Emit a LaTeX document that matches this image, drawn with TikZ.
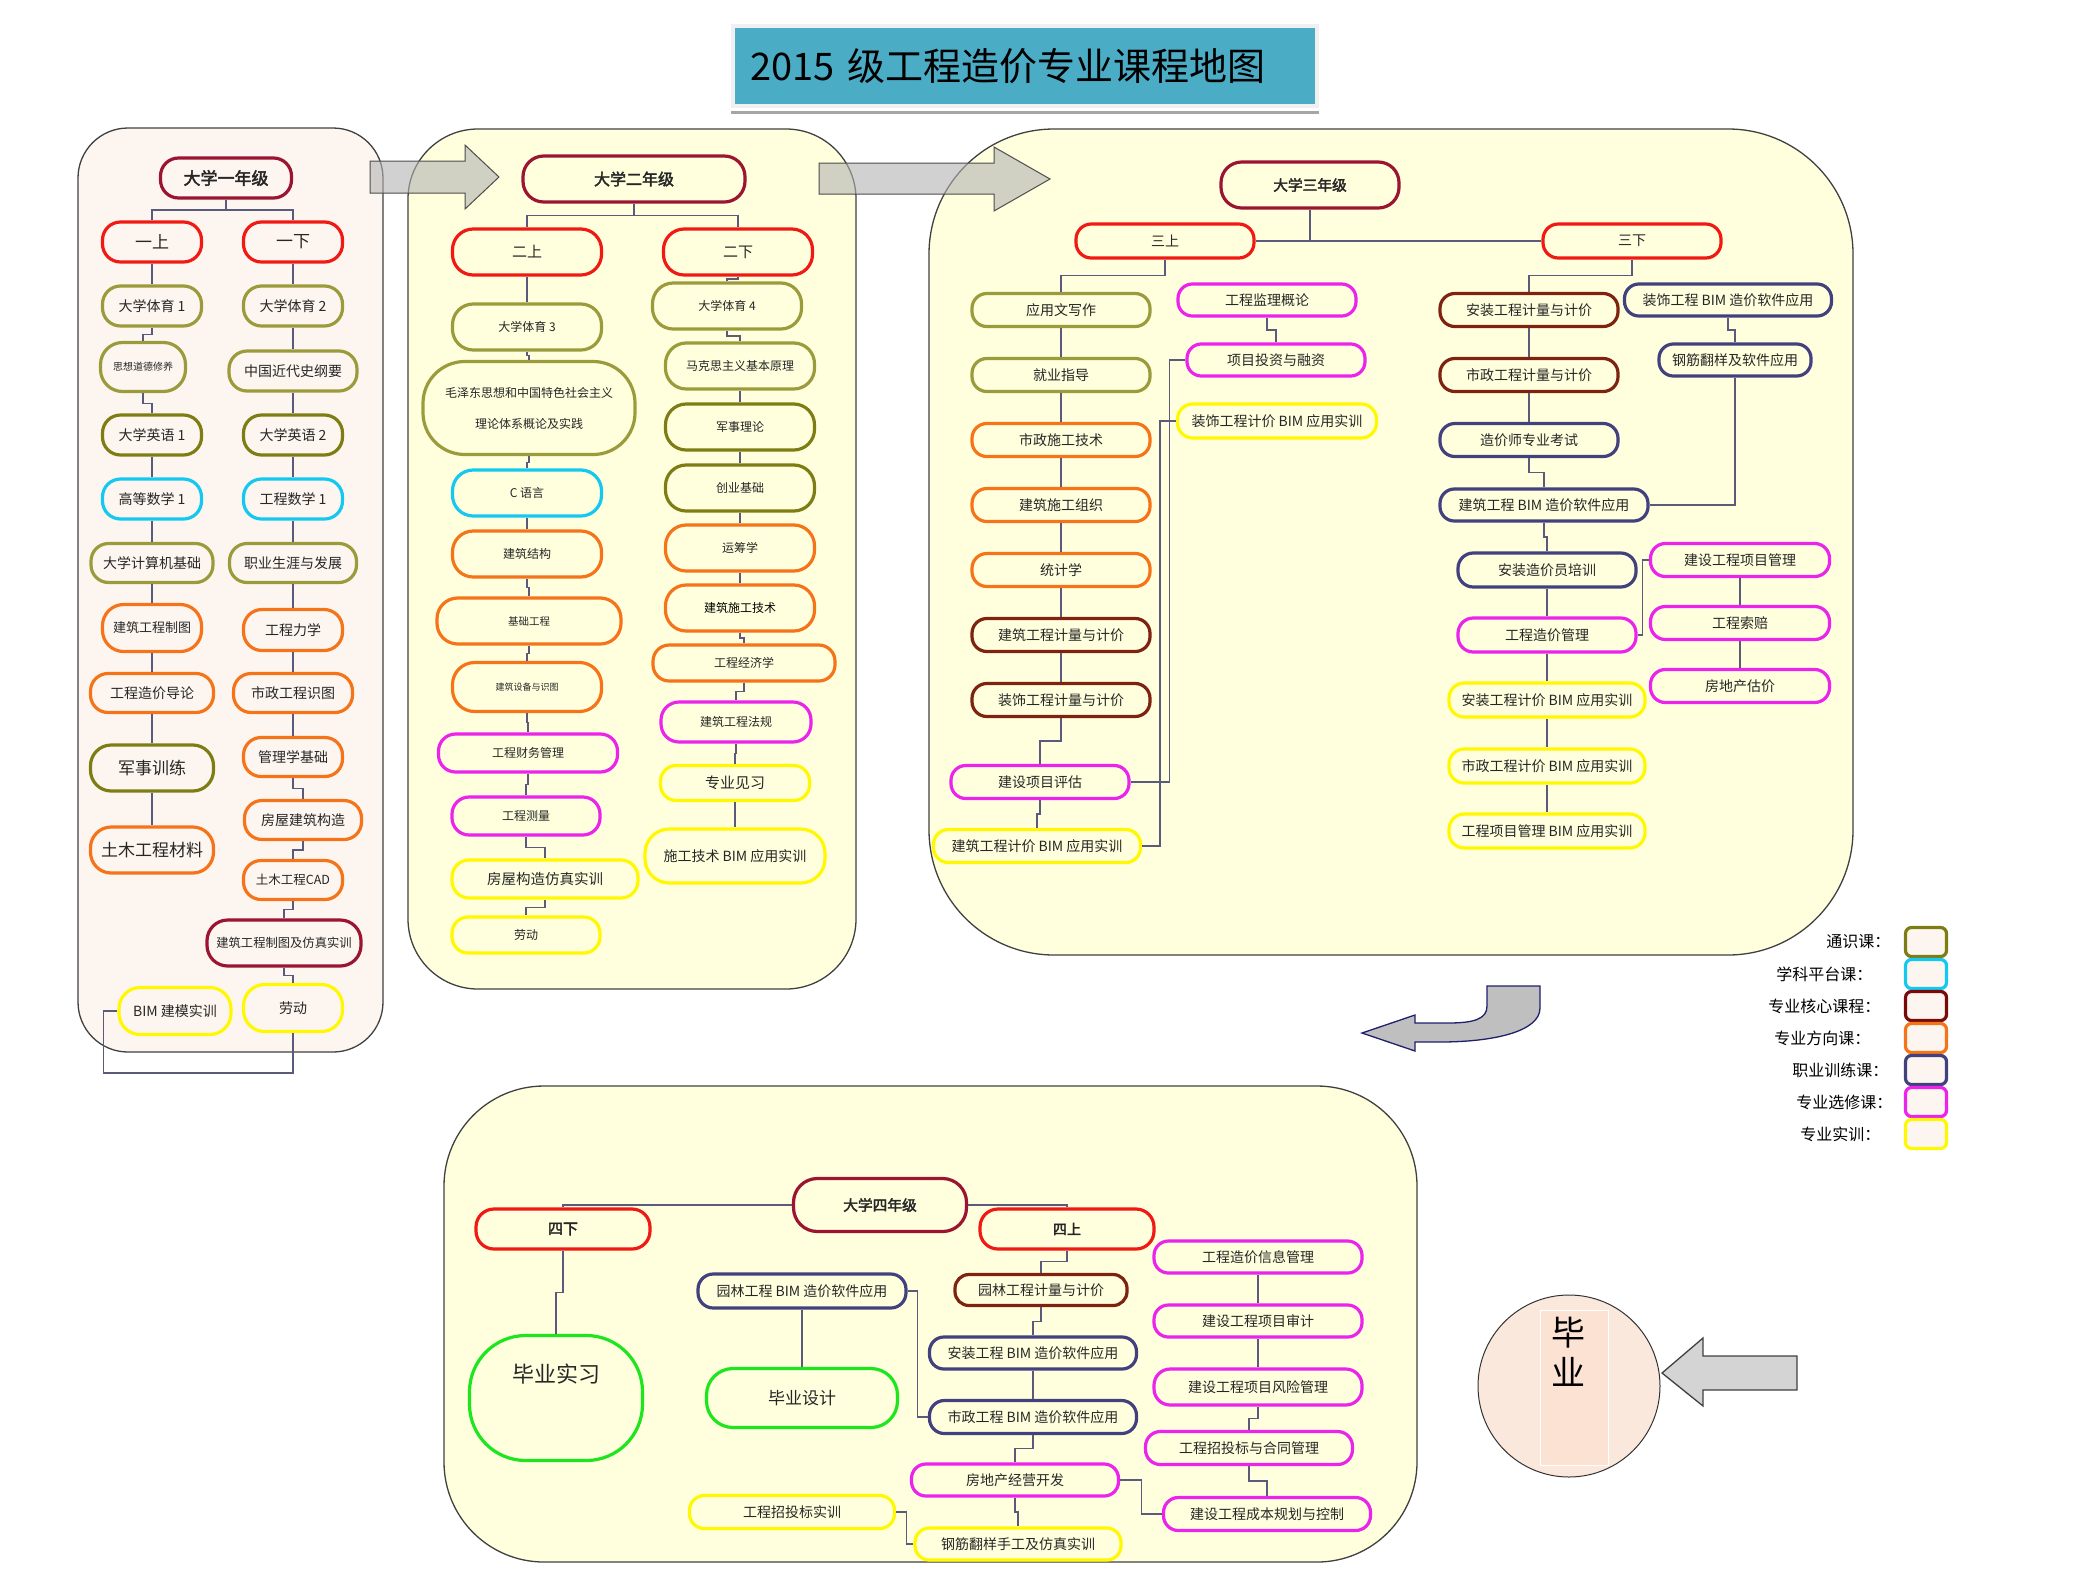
\documentclass[tikz,border=0pt]{standalone}
\usepackage{fontspec}
\setmainfont{Noto Sans CJK SC}[AutoFakeBold=2.5]
\usetikzlibrary{calc}
\newcommand\fsz[1]{\fontsize{#1}{#1}\selectfont}

\definecolor{ctong}{RGB}{155,155,60}
\definecolor{ctongd}{RGB}{125,125,20}
\definecolor{cplat}{RGB}{20,200,240}
\definecolor{chead}{RGB}{155,20,50}
\definecolor{ccore}{RGB}{125,35,15}
\definecolor{cterm}{RGB}{240,25,20}
\definecolor{cdir}{RGB}{245,115,25}
\definecolor{cjob}{RGB}{65,65,125}
\definecolor{celec}{RGB}{235,35,235}
\definecolor{cprac}{RGB}{255,248,0}
\definecolor{cgrad}{RGB}{30,230,30}
\definecolor{clink}{RGB}{90,90,125}
\definecolor{cpanA}{RGB}{253,246,240}
\definecolor{cpanB}{RGB}{255,255,222}
\definecolor{ctitle}{RGB}{75,172,198}
\definecolor{cpeach}{RGB}{251,232,221}
\definecolor{cpeachb}{RGB}{252,226,210}
\definecolor{cnavy}{RGB}{31,31,110}

\tikzset{
  course/.style={draw, rectangle, line width=3.2pt, inner sep=0pt, text=black!85},
  wh/.style 2 args={minimum width=#1, minimum height=#2, rounded corners=0.45*#2},
  crim/.style={course, draw=chead},
  termbox/.style={course, draw=cterm},
  gen/.style={course, draw=ctong},
  gend/.style={course, draw=ctongd},
  plat/.style={course, draw=cplat},
  core/.style={course, draw=ccore},
  dir/.style={course, draw=cdir},
  job/.style={course, draw=cjob},
  elec/.style={course, draw=celec},
  prac/.style={course, draw=cprac},
  grad/.style={course, draw=cgrad},
  link/.style={draw=clink, line width=1.2pt},
  elbow/.style={to path={(\tikztostart) |- ($(\tikztostart)!0.5!(\tikztotarget)$) -| (\tikztotarget)}},
  panel/.style={draw=black!75, line width=1.3pt},
  legbox/.style={draw, line width=3.2pt, fill=cpanA, rounded corners=6, minimum width=41, minimum height=29},
}

\begin{document}
\begin{tikzpicture}[x=1pt, y=-1pt, font=\fsz{14}]
\useasboundingbox (0,0) rectangle (2079,1585);

% panels
\draw[panel, fill=cpanA, rounded corners=50] (78,128) rectangle (383,1052);
\draw[panel, fill=cpanB, rounded corners=70] (408,129) rectangle (856,989);
\draw[panel, fill=cpanB, rounded corners=125] (929,129) rectangle (1853,955);
\draw[panel, fill=cpanB, rounded corners=100] (444,1086) rectangle (1417,1562);

% arrows between years
\draw[black!70, line width=1pt, fill=black!30, fill opacity=0.6] (370,161) -- (465,161) -- (465,145) -- (499,177) -- (465,209) -- (465,193) -- (370,193) -- cycle;
\draw[black!70, line width=1pt, fill=black!30, fill opacity=0.6] (819,163) -- (994,163) -- (994,147) -- (1050,179) -- (994,211) -- (994,194) -- (819,194) -- cycle;
\draw[cnavy, fill=black!25, line width=1.3pt] (1540,986) -- (1540,1008) .. controls (1540,1032) and (1492,1042) .. (1440,1042) -- (1415,1042) -- (1415,1051) -- (1362,1033) -- (1415,1015) -- (1415,1023) -- (1448,1023) .. controls (1474,1023) and (1487,1019) .. (1487,1006) -- (1487,986) -- cycle;
\draw[black!75, fill=black!17, line width=1.3pt] (1797,1356) -- (1703,1356) -- (1703,1338) -- (1662,1373) -- (1703,1406) -- (1703,1390) -- (1797,1390) -- cycle;

% title
\node[fill=ctitle, draw=black!6, line width=4pt, minimum height=80, text width=550, inner xsep=17, align=left, font=\fsz{38}, text=black] (T) at (1025,66) {2015 级工程造价专业课程地图};
\draw[black!35, line width=3pt] ([yshift=-4pt]T.south west) -- ([yshift=-4pt]T.south east);

% year one
\node[crim, wh={131}{40}, font=\bfseries\fsz{17}] (Y1) at (226,178) {大学一年级};
\node[termbox, wh={99}{40}, font=\fsz{17}] (S1) at (152,242) {一上};
\node[termbox, wh={99}{40}, font=\fsz{17}] (S2) at (293,242) {一下};
\node[gen, wh={99}{40}] (A1) at (152,306) {大学体育 1};
\node[gen, wh={85}{49}, font=\fsz{10}] (A2) at (143,367) {思想道德修养};
\node[gend, wh={99}{40}] (A3) at (152,435) {大学英语 1};
\node[plat, wh={99}{40}] (A4) at (152,499) {高等数学 1};
\node[gen, wh={122}{39}] (A5) at (152,563) {大学计算机基础};
\node[dir, wh={99}{47}, font=\fsz{13}] (A6) at (152,628) {建筑工程制图};
\node[dir, wh={123}{39}] (A7) at (152,693) {工程造价导论};
\node[gend, wh={123}{46}, font=\fsz{17}] (A8) at (152,768) {军事训练};
\node[dir, wh={123}{46}, font=\fsz{17}] (A9) at (152,850) {土木工程材料};
\node[prac, wh={112}{47}] (A10) at (175,1011) {BIM 建模实训};
\node[gen, wh={99}{40}] (B1) at (293,306) {大学体育 2};
\node[gen, wh={128}{40}] (B2) at (293,371) {中国近代史纲要};
\node[gend, wh={99}{40}] (B3) at (293,435) {大学英语 2};
\node[plat, wh={99}{40}] (B4) at (293,499) {工程数学 1};
\node[gen, wh={127}{39}] (B5) at (293,563) {职业生涯与发展};
\node[dir, wh={99}{41}] (B6) at (293,630) {工程力学};
\node[dir, wh={119}{39}] (B7) at (293,693) {市政工程识图};
\node[dir, wh={99}{39}] (B8) at (293,757) {管理学基础};
\node[dir, wh={117}{39}] (B9) at (303,820) {房屋建筑构造};
\node[dir, wh={99}{39}, font=\fsz{12.5}] (B10) at (293,880) {土木工程CAD};
\node[crim, wh={154}{46}, font=\fsz{12.3}] (B11) at (284,943) {建筑工程制图及仿真实训};
\node[prac, wh={99}{47}] (B12) at (293,1008) {劳动};

\draw[link] (Y1.south) to[elbow] (S1.north);
\draw[link] (Y1.south) to[elbow] (S2.north);
\draw[link] (S1.south) to[elbow] (A1.north);
\draw[link] (A1.south) to[elbow] (A2.north);
\draw[link] (A2.south) to[elbow] (A3.north);
\draw[link] (A3.south) to[elbow] (A4.north);
\draw[link] (A4.south) to[elbow] (A5.north);
\draw[link] (A5.south) to[elbow] (A6.north);
\draw[link] (A6.south) to[elbow] (A7.north);
\draw[link] (A7.south) to[elbow] (A8.north);
\draw[link] (A8.south) to[elbow] (A9.north);
\draw[link] (S2.south) to[elbow] (B1.north);
\draw[link] (B1.south) to[elbow] (B2.north);
\draw[link] (B2.south) to[elbow] (B3.north);
\draw[link] (B3.south) to[elbow] (B4.north);
\draw[link] (B4.south) to[elbow] (B5.north);
\draw[link] (B5.south) to[elbow] (B6.north);
\draw[link] (B6.south) to[elbow] (B7.north);
\draw[link] (B7.south) to[elbow] (B8.north);
\draw[link] (B8.south) to[elbow] (B9.north);
\draw[link] (B9.south) to[elbow] (B10.north);
\draw[link] (B10.south) to[elbow] (B11.north);
\draw[link] (B11.south) to[elbow] (B12.north);
\draw[link] (A10.west) -- ++(-14,0) -- ++(0,62) -| (B12.south);

% year two
\begin{scope}[font=\fsz{12}]
\node[crim, wh={222}{46}, font=\bfseries\fsz{16}] (Y2) at (634,179) {大学二年级};
\node[termbox, wh={149}{46}, font=\fsz{15}] (S3) at (527,252) {二上};
\node[termbox, wh={149}{46}, font=\fsz{15}] (S4) at (738,252) {二下};
\node[gen, wh={149}{46}] (C1) at (527,327) {大学体育 3};
\node[gen, wh={212}{93}, align=center, font={\fontsize{12}{31}\selectfont}] (C2) at (529,408) {毛泽东思想和中国特色社会主义\\理论体系概论及实践};
\node[plat, wh={149}{46}] (C3) at (527,493) {C 语言};
\node[dir, wh={149}{46}] (C4) at (527,554) {建筑结构};
\node[dir, wh={184}{46}, font=\fsz{10.5}] (C5) at (529,621) {基础工程};
\node[dir, wh={149}{49}, font=\fsz{9}] (C6) at (527,687) {建筑设备与识图};
\node[elec, wh={179}{38}] (C7) at (528,753) {工程财务管理};
\node[elec, wh={148}{38}] (C8) at (526,816) {工程测量};
\node[prac, wh={186}{38}, font=\fsz{14.5}] (C9) at (545,879) {房屋构造仿真实训};
\node[prac, wh={148}{36}] (C10) at (526,935) {劳动};
\node[gen, wh={149}{46}] (D1) at (727,306) {大学体育 4};
\node[gen, wh={149}{46}] (D2) at (740,366) {马克思主义基本原理};
\node[gend, wh={149}{46}] (D3) at (740,427) {军事理论};
\node[gend, wh={149}{46}] (D4) at (740,488) {创业基础};
\node[dir, wh={149}{46}] (D5) at (740,548) {运筹学};
\node[dir, wh={149}{46}, text=black] (D6) at (740,608) {建筑施工技术};
\node[dir, wh={182}{36}] (D7) at (744,663) {工程经济学};
\node[elec, wh={150}{40}] (D8) at (736,722) {建筑工程法规};
\node[prac, wh={149}{35}, font=\fsz{15}] (D9) at (735,783) {专业见习};
\node[prac, wh={180}{54}, font=\fsz{14}] (D10) at (735,856) {施工技术 BIM 应用实训};
\end{scope}

\draw[link] (Y2.south) to[elbow] (S3.north);
\draw[link] (Y2.south) to[elbow] (S4.north);
\draw[link] (S3.south) to[elbow] (C1.north);
\draw[link] (C1.south) to[elbow] (C2.north);
\draw[link] (C2.south) to[elbow] (C3.north);
\draw[link] (C3.south) to[elbow] (C4.north);
\draw[link] (C4.south) to[elbow] (C5.north);
\draw[link] (C5.south) to[elbow] (C6.north);
\draw[link] (C6.south) to[elbow] (C7.north);
\draw[link] (C7.south) to[elbow] (C8.north);
\draw[link] (C8.south) to[elbow] (C9.north);
\draw[link] (C9.south) to[elbow] (C10.north);
\draw[link] (S4.south) to[elbow] (D1.north);
\draw[link] (D1.south) to[elbow] (D2.north);
\draw[link] (D2.south) to[elbow] (D3.north);
\draw[link] (D3.south) to[elbow] (D4.north);
\draw[link] (D4.south) to[elbow] (D5.north);
\draw[link] (D5.south) to[elbow] (D6.north);
\draw[link] (D6.south) to[elbow] (D7.north);
\draw[link] (D7.south) to[elbow] (D8.north);
\draw[link] (D8.south) to[elbow] (D9.north);
\draw[link] (D9.south) to[elbow] (D10.north);

% year three
\node[crim, wh={178}{46}, font=\bfseries\fsz{14.7}] (Y3) at (1310,185) {大学三年级};
\node[termbox, wh={178}{34}] (S5) at (1165,241) {三上};
\node[termbox, wh={178}{34}] (S6) at (1632,241) {三下};
\node[gen, wh={178}{33}] (E1) at (1061,310) {应用文写作};
\node[gen, wh={178}{33}] (E2) at (1061,375) {就业指导};
\node[dir, wh={178}{33}] (E3) at (1061,440) {市政施工技术};
\node[dir, wh={178}{33}] (E4) at (1061,505) {建筑施工组织};
\node[dir, wh={178}{33}] (E5) at (1061,570) {统计学};
\node[core, wh={178}{33}] (E6) at (1061,635) {建筑工程计量与计价};
\node[core, wh={178}{33}] (E7) at (1061,700) {装饰工程计量与计价};
\node[elec, wh={178}{33}] (E8) at (1040,782) {建设项目评估};
\node[prac, wh={207}{33}] (E9) at (1037,846) {建筑工程计价 BIM 应用实训};
\node[elec, wh={178}{32}] (F1) at (1267,300) {工程监理概论};
\node[elec, wh={178}{32}] (F2) at (1276,360) {项目投资与融资};
\node[prac, wh={199}{34}] (F3) at (1277,421) {装饰工程计价 BIM 应用实训};
\node[core, wh={178}{33}] (G1) at (1529,310) {安装工程计量与计价};
\node[core, wh={178}{33}] (G2) at (1529,375) {市政工程计量与计价};
\node[job, wh={178}{33}] (G3) at (1529,440) {造价师专业考试};
\node[job, wh={208}{32}] (G4) at (1544,505) {建筑工程 BIM 造价软件应用};
\node[job, wh={178}{34}] (G5) at (1547,570) {安装造价员培训};
\node[elec, wh={178}{34}] (G6) at (1547,635) {工程造价管理};
\node[prac, wh={196}{34}] (G7) at (1547,700) {安装工程计价 BIM 应用实训};
\node[prac, wh={196}{34}] (G8) at (1547,766) {市政工程计价 BIM 应用实训};
\node[prac, wh={196}{34}] (G9) at (1547,831) {工程项目管理 BIM 应用实训};
\node[job, wh={207}{32}] (H1) at (1728,300) {装饰工程 BIM 造价软件应用};
\node[job, wh={152}{32}] (H2) at (1735,360) {钢筋翻样及软件应用};
\node[elec, wh={179}{33}] (H3) at (1740,560) {建设工程项目管理};
\node[elec, wh={179}{33}] (H4) at (1740,623) {工程索赔};
\node[elec, wh={179}{33}] (H5) at (1740,686) {房地产估价};

\draw[link] (S5.east) -- (S6.west);
\draw[link] (Y3.south) -- (Y3.south |- S5.east);
\draw[link] (S5.south) to[elbow] (E1.north);
\draw[link] (E1.south) to[elbow] (E2.north);
\draw[link] (E2.south) to[elbow] (E3.north);
\draw[link] (E3.south) to[elbow] (E4.north);
\draw[link] (E4.south) to[elbow] (E5.north);
\draw[link] (E5.south) to[elbow] (E6.north);
\draw[link] (E6.south) to[elbow] (E7.north);
\draw[link] (E7.south) to[elbow] (E8.north);
\draw[link] (E8.south) to[elbow] (E9.north);
\draw[link] (F1.south) to[elbow] (F2.north);
\draw[link] (F2.west) -- ++(-16,0) |- (E8.east);
\draw[link] (F3.west) -- ++(-16,0) |- (E9.east);
\draw[link] (S6.south) to[elbow] (G1.north);
\draw[link] (G1.south) to[elbow] (G2.north);
\draw[link] (G2.south) to[elbow] (G3.north);
\draw[link] (G3.south) to[elbow] (G4.north);
\draw[link] (G4.south) to[elbow] (G5.north);
\draw[link] (G5.south) to[elbow] (G6.north);
\draw[link] (G6.south) to[elbow] (G7.north);
\draw[link] (G7.south) to[elbow] (G8.north);
\draw[link] (G8.south) to[elbow] (G9.north);
\draw[link] (H1.south) to[elbow] (H2.north);
\draw[link] (H2.south) |- (G4.east);
\draw[link] (G6.east) -- ++(5,0) |- (H3.west);
\draw[link] (H3.south) to[elbow] (H4.north);
\draw[link] (H4.south) to[elbow] (H5.north);

% year four
\node[crim, wh={173}{53}, font=\bfseries\fsz{14.7}] (Y4) at (880,1205) {大学四年级};
\node[termbox, wh={174}{40}, font=\bfseries\fsz{15}] (S7) at (563,1229) {四下};
\node[termbox, wh={174}{40}, font=\bfseries\fsz{14}] (S8) at (1067,1229) {四上};
\node[grad, wh={173}{125}, font=\fsz{22}, text depth=50pt] (I1) at (556,1398) {毕业实习};
\node[job, wh={208}{34}] (J1) at (802,1291) {园林工程 BIM 造价软件应用};
\node[grad, wh={191}{59}, font=\fsz{17}] (J2) at (802,1398) {毕业设计};
\node[prac, wh={205}{33}] (J3) at (792,1512) {工程招投标实训};
\node[core, wh={172}{31}] (K1) at (1041,1290) {园林工程计量与计价};
\node[job, wh={207}{32}] (K2) at (1033,1353) {安装工程 BIM 造价软件应用};
\node[job, wh={207}{33}] (K3) at (1033,1417) {市政工程 BIM 造价软件应用};
\node[elec, wh={207}{32}] (K4) at (1015,1480) {房地产经营开发};
\node[prac, wh={206}{32}] (K5) at (1018,1544) {钢筋翻样手工及仿真实训};
\node[elec, wh={208}{32}] (L1) at (1258,1257) {工程造价信息管理};
\node[elec, wh={208}{32}] (L2) at (1258,1321) {建设工程项目审计};
\node[elec, wh={208}{36}] (L3) at (1258,1387) {建设工程项目风险管理};
\node[elec, wh={207}{33}] (L4) at (1249,1448) {工程招投标与合同管理};
\node[elec, wh={207}{33}] (L5) at (1267,1514) {建设工程成本规划与控制};

\draw[link] (Y4.west) -| (S7.north);
\draw[link] (Y4.east) -| (S8.north);
\draw[link] (S7.south) to[elbow] (I1.north);
\draw[link] (J1.south) to[elbow] (J2.north);
\draw[link] (S8.south) to[elbow] (K1.north);
\draw[link] (K1.south) to[elbow] (K2.north);
\draw[link] (K2.south) to[elbow] (K3.north);
\draw[link] (K3.south) to[elbow] (K4.north);
\draw[link] (K4.south) to[elbow] (K5.north);
\draw[link] (J1.east) -- ++(10,0) |- (K3.west);
\draw[link] (J3.east) -- ++(10,0) |- (K5.west);
\draw[link] (K4.east) -- ++(21,0) |- (L5.west);
\draw[link] (L1.south) to[elbow] (L2.north);
\draw[link] (L2.south) to[elbow] (L3.north);
\draw[link] (L3.south) to[elbow] (L4.north);
\draw[link] (L4.south) to[elbow] (L5.north);

% graduation
\node[draw=black!80, line width=1pt, circle, fill=cpeach, minimum size=182] (BY) at (1569,1386) {};
\draw[white, fill=cpeachb, line width=0.8pt] (1540,1310) rectangle (1608,1465);
\node[align=center, font={\fontsize{34}{40}\selectfont}, text=black] (BYT) at (1568,1352) {毕\\业};

% legend
\node[legbox, draw=ctongd] (LB1) at (1926,942) {};
\node[legbox, draw=cplat] (LB2) at (1926,974) {};
\node[legbox, draw={rgb,255:red,120;green,10;blue,10}] (LB3) at (1926,1006) {};
\node[legbox, draw=cdir] (LB4) at (1926,1038) {};
\node[legbox, draw=cjob] (LB5) at (1926,1070) {};
\node[legbox, draw=celec] (LB6) at (1926,1102) {};
\node[legbox, draw=cprac] (LB7) at (1926,1134) {};
\node[anchor=east, font=\fsz{16}] (LT1) at (1894,942) {通识课：};
\node[anchor=east, font=\fsz{16}] (LT2) at (1876,974) {学科平台课：};
\node[anchor=east, font=\fsz{16}] (LT3) at (1884,1006) {专业核心课程：};
\node[anchor=east, font=\fsz{16}] (LT4) at (1874,1038) {专业方向课：};
\node[anchor=east, font=\fsz{16}] (LT5) at (1892,1070) {职业训练课：};
\node[anchor=east, font=\fsz{16}] (LT6) at (1896,1102) {专业选修课：};
\node[anchor=east, font=\fsz{16}] (LT7) at (1884,1134) {专业实训：};
\end{tikzpicture}
\end{document}
